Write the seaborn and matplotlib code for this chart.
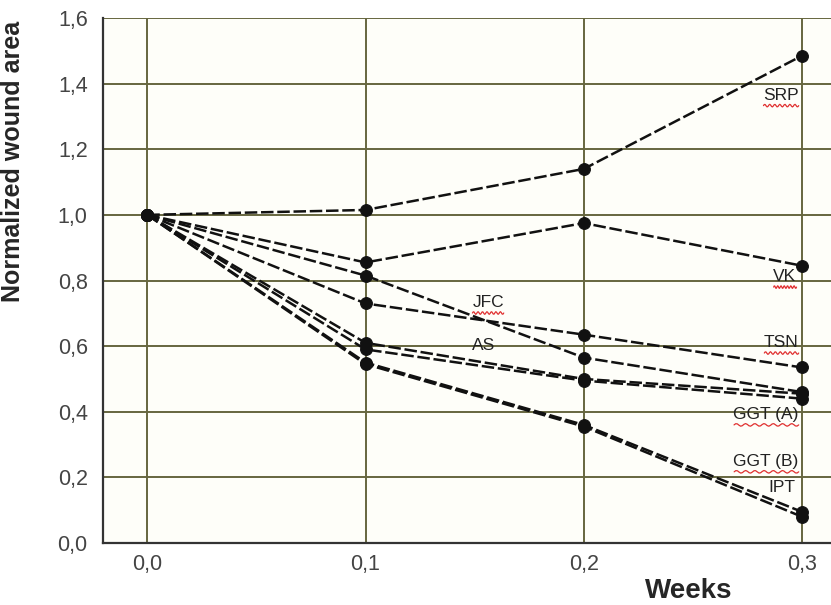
import numpy as np
import pandas as pd
import matplotlib
matplotlib.use("Agg")
import matplotlib.pyplot as plt
import seaborn as sns

# data
weeks = [0.0, 0.1, 0.2, 0.3]
srp = [1.00, 1.015, 1.14, 1.485]
vk = [1.00, 0.855, 0.975, 0.845]
tsn = [1.00, 0.73, 0.635, 0.535]
jfc = [1.00, 0.815, 0.565, 0.46]
as_ = [1.00, 0.61, 0.50, 0.455]
ggt_a = [1.00, 0.59, 0.495, 0.44]
ggt_b = [1.00, 0.55, 0.36, 0.095]
ipt = [1.00, 0.545, 0.355, 0.08]

series_names = ["SRP", "VK", "TSN", "JFC", "AS", "GGT (A)", "GGT (B)", "IPT"]
series_values = [srp, vk, tsn, jfc, as_, ggt_a, ggt_b, ipt]

# label text, x, y (data coords), alignment
label_text = ["SRP", "VK", "JFC", "AS", "TSN", "GGT (A)", "GGT (B)", "IPT"]
label_x = [0.2985, 0.2975, 0.149, 0.149, 0.2985, 0.2985, 0.2985, 0.297]
label_y = [1.365, 0.812, 0.733, 0.602, 0.611, 0.392, 0.249, 0.17]
label_ha = ["right", "right", "left", "left", "right", "right", "right", "right"]
squiggle = [True, True, True, False, True, True, True, False]

rows = []
for name, vals in zip(series_names, series_values):
    for w, v in zip(weeks, vals):
        rows.append({"Weeks": w, "Area": v, "Group": name})
df = pd.DataFrame(rows)

sns.set_style("white")
plt.rcParams["font.family"] = ["Liberation Sans", "DejaVu Sans"]

fig = plt.figure(figsize=(8.31, 6.05), dpi=100)
ax = fig.add_axes([103 / 831, 1 - 543 / 605, 1 - 103 / 831, (543 - 18) / 605])
ax.set_facecolor("#fefef9")

sns.lineplot(data=df, x="Weeks", y="Area", units="Group", estimator=None,
             color="#111111", linewidth=1.8, dashes=False, ax=ax,
             marker="o", markersize=8.5, markeredgecolor="#111111", legend=False)
for line in ax.get_lines():
    line.set_linestyle((0, (5, 1.5)))

for t, x, y, ha, sq in zip(label_text, label_x, label_y, label_ha, squiggle):
    txt = ax.text(x, y, t, ha=ha, va="center", fontsize=12.5, color="#222222")
    if sq:
        fig.canvas.draw()
        bb = txt.get_window_extent().transformed(ax.transData.inverted())
        xs = np.linspace(bb.x0, bb.x1, 40)
        ys = bb.y0 - 0.010 + 0.004 * np.sin(np.linspace(0, 14 * np.pi, 40))
        ax.plot(xs, ys, color="#e03030", linewidth=0.9)

ax.set_xlim(-0.0203, 0.3133)
ax.set_ylim(0, 1.6)
ax.set_xticks(weeks)
ax.set_xticklabels(["0,0", "0,1", "0,2", "0,3"])
yt = np.arange(0, 1.61, 0.2)
ax.set_yticks(yt)
ax.set_yticklabels([f"{v:.1f}".replace(".", ",") for v in yt])
ax.tick_params(axis="both", length=0, labelsize=15.5, labelcolor="#444444")
ax.tick_params(axis="y", pad=11)
ax.tick_params(axis="x", pad=8)

ax.grid(True, color="#66663f", linewidth=1.4)
ax.set_axisbelow(True)
for s in ["top", "right"]:
    ax.spines[s].set_visible(False)
for s in ["left", "bottom"]:
    ax.spines[s].set_color("#333333")
    ax.spines[s].set_linewidth(1.6)

ax.set_ylabel("Normalized wound area", fontsize=18, fontweight="bold")
ax.yaxis.set_label_coords(-0.107, 0.726)
ax.set_xlabel("")
fig.text(689 / 831, 1 - 591 / 605, "Weeks", fontsize=20, fontweight="bold",
         ha="center", va="center")

fig.savefig("out.png", dpi=100)
